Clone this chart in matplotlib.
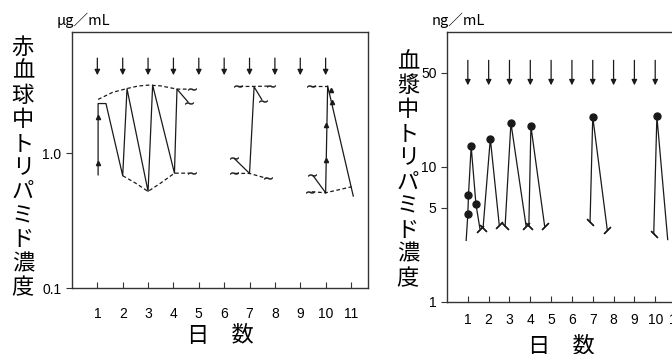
import matplotlib
matplotlib.use("Agg")
import matplotlib.pyplot as plt

plt.rcParams['font.family'] = ['Liberation Sans', 'Noto Sans CJK JP', 'DejaVu Sans']

# ---- data: left panel (red blood cell concentration, ug/mL) ----
dose_days = [1, 2, 3, 4, 5, 6, 7, 8, 9, 10]
rbc_xticks = [1, 2, 3, 4, 5, 6, 7, 8, 9, 10, 11]

# days 1-4 zigzag
rbc_x1 = [1.03, 1.03, 1.34, 2.0, 2.17, 3.0, 3.18, 4.04, 4.14, 4.57]
rbc_y1 = [0.69, 2.33, 2.33, 0.68, 3.0, 0.52, 3.19, 0.71, 2.98, 2.40]
rbc_up_x1 = [1.03, 1.6, 2.17, 2.6, 3.0, 3.5, 4.14, 4.62]
rbc_up_y1 = [2.50, 2.82, 3.01, 3.14, 3.19, 3.15, 2.98, 2.98]
rbc_lo_x1 = [2.0, 2.5, 3.0, 3.5, 4.04, 4.62]
rbc_lo_y1 = [0.68, 0.60, 0.52, 0.60, 0.71, 0.71]
rbc_tri_x1 = [1.03, 1.03]
rbc_tri_y1 = [0.85, 1.86]

# day 7
rbc_x7 = [7.0, 7.18, 7.48]
rbc_y7 = [0.707, 3.10, 2.50]
rbc_up_x7 = [6.60, 7.18, 7.78]
rbc_up_y7 = [3.12, 3.12, 3.14]
rbc_lo_x7 = [6.43, 7.0, 7.68]
rbc_lo_y7 = [0.707, 0.707, 0.65]
rbc_side_x7 = [7.0, 6.43]
rbc_side_y7 = [0.707, 0.90]

# day 10
rbc_x10 = [10.0, 10.08, 11.09]
rbc_y10 = [0.508, 3.15, 0.48]
rbc_up_x10 = [9.48, 10.04]
rbc_up_y10 = [3.15, 3.15]
rbc_lo_x10 = [9.45, 10.0, 11.03]
rbc_lo_y10 = [0.517, 0.508, 0.563]
rbc_side_x10 = [10.0, 9.52]
rbc_side_y10 = [0.508, 0.675]
rbc_tri_x10 = [10.01, 10.03, 10.2, 10.26]
rbc_tri_y10 = [0.887, 1.61, 2.93, 2.40]

# tilde caps at open ends
rbc_cap_x = [4.72, 4.72, 4.62, 6.55, 7.83, 6.38, 7.73, 7.52, 6.38, 9.43, 9.40, 9.48]
rbc_cap_y = [3.00, 0.71, 2.36, 3.12, 3.15, 0.707, 0.65, 2.45, 0.92, 3.15, 0.517, 0.69]

# ---- data: right panel (plasma concentration, ng/mL) ----
pl_xticks = [1, 2, 3, 4, 5, 6, 7, 8, 9, 10, 11]
pl_segments = [
    ([0.92, 1.0, 1.03, 1.16, 1.39, 1.58], [2.86, 4.46, 6.17, 14.2, 5.29, 3.50]),
    ([1.73, 2.08, 2.51], [3.51, 16.2, 3.70]),
    ([2.79, 3.07, 3.80], [3.64, 21.2, 3.64]),
    ([3.93, 4.03, 4.69], [3.64, 20.0, 3.64]),
    ([6.87, 7.0, 7.70], [3.91, 23.5, 3.40]),
    ([9.93, 10.08, 10.6], [3.21, 23.7, 2.9]),
]
pl_dot_x = [1.0, 1.03, 1.16, 1.39, 2.08, 3.07, 4.03, 7.0, 10.08]
pl_dot_y = [4.46, 6.17, 14.2, 5.29, 16.2, 21.2, 20.0, 23.5, 23.7]
pl_fall_end_x = [1.58, 2.51, 3.80, 4.69, 7.70]
pl_fall_end_y = [3.50, 3.70, 3.64, 3.64, 3.40]
pl_rise_start_x = [1.73, 2.79, 3.93, 6.87, 9.93]
pl_rise_start_y = [3.51, 3.64, 3.64, 3.91, 3.21]

ink = '#1a1a1a'
fig = plt.figure(figsize=(6.72, 3.54), dpi=100)

# ---------- left panel ----------
ax1 = fig.add_axes([0.1071, 0.1864, 0.4405, 0.7232])
ax1.set_yscale('log')
ax1.set_xlim(0, 11.67)
ax1.set_ylim(0.1, 7.9)

for d in dose_days:
    ax1.annotate('', xy=(d, 3.78), xytext=(d, 5.06),
                 arrowprops=dict(arrowstyle='-|>', color=ink, lw=0.9,
                                 mutation_scale=8, shrinkA=0, shrinkB=0))

for xs, ys in [(rbc_x1, rbc_y1), (rbc_x7, rbc_y7), (rbc_side_x7, rbc_side_y7),
               (rbc_x10, rbc_y10), (rbc_side_x10, rbc_side_y10)]:
    ax1.plot(xs, ys, color=ink, lw=0.9)
for xs, ys in [(rbc_up_x1, rbc_up_y1), (rbc_lo_x1, rbc_lo_y1),
               (rbc_up_x7, rbc_up_y7), (rbc_lo_x7, rbc_lo_y7),
               (rbc_up_x10, rbc_up_y10), (rbc_lo_x10, rbc_lo_y10)]:
    ax1.plot(xs, ys, color=ink, lw=0.9, ls=(0, (3, 2)))
ax1.plot(rbc_tri_x1 + rbc_tri_x10, rbc_tri_y1 + rbc_tri_y10, ls='none',
         marker='^', ms=3, color=ink)
ax1.plot(rbc_cap_x, rbc_cap_y, ls='none', marker=r'$\sim$', ms=6,
         color=ink, mew=0.3)

ax1.set_xticks(rbc_xticks)
ax1.set_yticks([0.1, 1.0])
ax1.set_yticklabels(['0.1', '1.0'])
ax1.minorticks_off()

# ---------- right panel ----------
ax2 = fig.add_axes([0.6652, 0.1469, 0.3408, 0.7627])
ax2.set_yscale('log')
ax2.set_xlim(0, 10.7)
ax2.set_ylim(1, 100)

for d in dose_days:
    ax2.annotate('', xy=(d, 40.3), xytext=(d, 61.7),
                 arrowprops=dict(arrowstyle='-|>', color=ink, lw=0.9,
                                 mutation_scale=8, shrinkA=0, shrinkB=0))
for xs, ys in pl_segments:
    ax2.plot(xs, ys, color=ink, lw=0.9)
ax2.plot(pl_dot_x, pl_dot_y, ls='none', marker='o', ms=5, color=ink)
ax2.plot(pl_fall_end_x, pl_fall_end_y, ls='none', marker=(2, 2, -45),
         ms=7, mew=0.9, color=ink)
ax2.plot(pl_rise_start_x, pl_rise_start_y, ls='none', marker=(2, 2, 45),
         ms=7, mew=0.9, color=ink)

ax2.set_xticks(pl_xticks)
ax2.set_yticks([1, 5, 10, 50])
ax2.set_yticklabels(['1', '5', '10', '50'])
ax2.minorticks_off()

for ax, xpad in ((ax1, 14), (ax2, 8)):
    for s in ax.spines.values():
        s.set_color('#333333')
        s.set_linewidth(1.0)
    ax.tick_params(axis='x', direction='in', length=4, labelsize=10, pad=xpad,
                   color='#333333')
    ax.tick_params(axis='y', direction='out', length=4, labelsize=10,
                   color='#333333')

# labels
ax1.set_xlabel('日　数', fontsize=16, labelpad=2, family=['Noto Sans CJK JP'])
ax2.set_xlabel('日　数', fontsize=16, labelpad=6, family=['Noto Sans CJK JP'])
fig.text(0.034, 0.527, '\n'.join('赤血球中トリパミド濃度'), ha='center', va='center',
         fontsize=16, linespacing=1.06, family=['Noto Sans CJK JP'])
fig.text(0.607, 0.52, '\n'.join('血漿中トリパミド濃度'), ha='center', va='center',
         fontsize=16, linespacing=1.06, family=['Noto Sans CJK JP'])
fig.text(57 / 672, 1 - 20 / 354, 'μg／mL', ha='left', va='center', fontsize=10.5,
         family=['Noto Sans CJK JP'])
fig.text(432 / 672, 1 - 20 / 354, 'ng／mL', ha='left', va='center', fontsize=10.5,
         family=['Noto Sans CJK JP'])

fig.savefig('out.png', dpi=100)
